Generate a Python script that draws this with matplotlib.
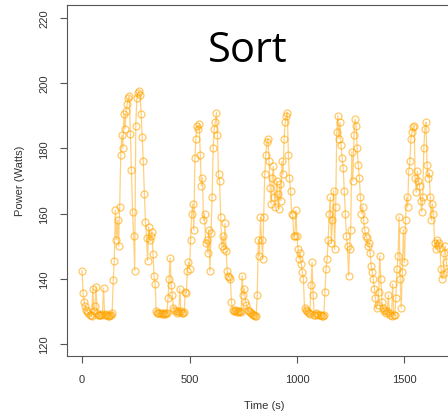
# plot.py - potência medida durante o benchmark "Sort"
import matplotlib
matplotlib.use("Agg")
import matplotlib.pyplot as plt
import numpy as np

# --- dados (uma amostra a cada 5 s) ---
sample_step_s = 5
power_w = [
    142.5, 135.5, 133, 131.5, 130.5, 130, 129.5, 129, 128.8, 128.5,      # 0
    137, 130, 131.5, 137.5, 129.5, 129, 129, 128.8, 129, 129.2,          # 50
    137.2, 129, 129.3, 128.8, 128.7, 128.6, 128.8, 129, 129.5, 139.5,    # 100
    145.5, 161, 152, 158, 150, 162, 178, 184, 180, 190.5,                # 150
    186, 191.5, 193.5, 195.5, 196, 184.5, 173.5, 160.5, 153, 142.5,      # 200
    187, 195.5, 197, 197.5, 196.5, 190.5, 183.5, 176, 166, 157.5,        # 250
    152.5, 145.5, 156, 152, 153, 154.5, 147.5, 141, 138.5, 130,          # 300
    129.6, 129.5, 129.4, 129.5, 129.3, 129.4, 129.2, 129.3, 129.4, 129.5,  # 350
    134, 140, 146.4, 138, 135, 131, 130.5, 130, 129.5, 130,              # 400
    129.8, 137, 130, 129.5, 129.5, 129.8, 136, 135.5, 142.5, 145,        # 450
    143, 152, 160, 163, 155, 177, 183, 187, 186, 187.5,                  # 500
    178, 168.5, 171, 158, 160, 151, 152, 148, 155, 142.4,                # 550
    154, 165, 180, 186, 188, 191, 184, 172, 170, 159,                    # 600
    150, 153, 149, 157, 148.5, 142.5, 141, 140.5, 140, 133,              # 650
    130.5, 130.2, 130, 130.3, 129.8, 130, 129.7, 130, 129.8, 141,        # 700
    135, 137, 133, 132, 130.5, 130, 129.8, 129.5, 129.2, 129,            # 750
    128.8, 128.7, 128.6, 135, 152, 147, 158.8, 152, 146, 159,            # 800
    172, 178, 182, 183, 176, 168, 163, 171, 174.5, 165,                  # 850
    162, 170, 166, 161.5, 169, 164, 176, 172, 183, 188,                  # 900
    190, 191, 178, 171, 167, 160, 159.5, 153, 153.2, 161,                # 950
    153, 149, 146, 148, 144.5, 142, 140, 131, 130.5, 130,                # 1000
    129.8, 129.5, 129.3, 138, 145, 135, 129, 128.8, 129.5, 129.2,        # 1050
    129, 128.9, 128.8, 128.7, 128.6, 129, 136, 143, 146, 152,            # 1100
    160, 165, 151, 158, 167, 149, 162, 185, 190, 183,                    # 1150
    188, 181, 177, 174, 167, 160, 153, 150, 141, 149,                    # 1200
    155, 179, 170, 184, 189, 187, 180, 175, 171, 165,                    # 1250
    160, 162, 158, 155, 153, 152.5, 150, 151, 148, 144,                  # 1300
    142, 140, 137, 134, 131, 132, 136, 147, 140, 133,                    # 1350
    131, 130, 130.5, 129.5, 130, 135, 129.5, 128.8, 128.6, 138.4,        # 1400
    129, 128.8, 134, 143, 147, 159, 140, 131, 142, 155,                  # 1450
    145, 158, 165, 162, 173, 176, 183, 185, 186.5, 187,                  # 1500
    171, 166.6, 173, 170, 168.5, 164, 160.5, 165, 180, 186,              # 1550
    188, 175, 171, 172.5, 165, 158, 163, 160, 151, 149,                  # 1600
    152, 150.5, 151, 149.5, 143, 140, 141.5, 148, 150, 145,              # 1650
    142,                                                                 # 1700
]
time_s = np.arange(len(power_w)) * sample_step_s

x_ticks = [0, 500, 1000, 1500]
y_ticks = [120, 140, 160, 180, 200, 220]

# --- figura (estilo R base graphics) ---
plt.rcParams['font.family'] = ['Liberation Sans', 'DejaVu Sans']
fig = plt.figure(figsize=(4.48, 4.14), dpi=100)
# o eixo passa da borda direita, como no original (cortado)
ax = fig.add_axes([67 / 448, 57 / 414, 394 / 448, 351 / 414])

laranja = '#FFA500'
ax.plot(time_s, power_w, color=laranja, lw=0.9, alpha=0.5, zorder=2)
ax.plot(time_s, power_w, ls='none', marker='o', ms=5, mfc='none',
        mec=laranja, mew=0.9, alpha=0.6, zorder=3)

ax.set_xlim(-70, 1763)
ax.set_ylim(116.3, 224)
ax.set_xticks(x_ticks)
ax.set_yticks(y_ticks)
ax.tick_params(direction='out', length=5, width=0.8, colors='#555555',
               labelcolor='#333333', labelsize=8, pad=8)
plt.setp(ax.get_yticklabels(), rotation=90, va='center')
for s in ax.spines.values():
    s.set_color('#555555')
    s.set_linewidth(0.8)

fig.text(264 / 448, 1 - 406 / 414, 'Time (s)', ha='center', va='center',
         fontsize=8, color='#333333')
fig.text(20 / 448, 1 - 181 / 414, 'Power (Watts)', ha='center', va='center',
         rotation=90, fontsize=8, color='#333333')

fig.text(248 / 448, 1 - 62 / 414, 'Sort', ha='center', va='baseline',
         fontsize=30, family='Open Sans', color='black')

fig.savefig('out.png', dpi=100)
